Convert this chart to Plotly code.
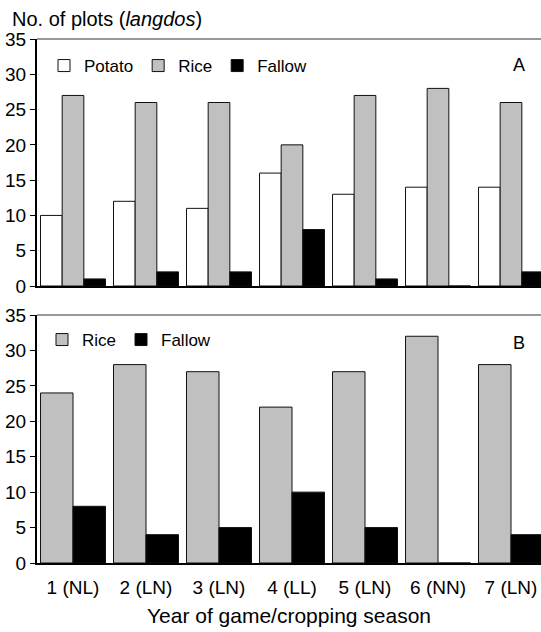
import plotly.graph_objects as go
from plotly.subplots import make_subplots

years = ["1 (NL)", "2 (LN)", "3 (LN)", "4 (LL)", "5 (LN)", "6 (NN)", "7 (LN)"]

# Panel A
potato_a = [10, 12, 11, 16, 13, 14, 14]
rice_a = [27, 26, 26, 20, 27, 28, 26]
fallow_a = [1, 2, 2, 8, 1, 0, 2]

# Panel B
rice_b = [24, 28, 27, 22, 27, 32, 28]
fallow_b = [8, 4, 5, 10, 5, 0, 4]

y_ticks = [0, 5, 10, 15, 20, 25, 30, 35]

FONT = "Liberation Sans, Arial, sans-serif"
W, H = 541, 632
L, R, T, B = 37, 0, 39, 69
ph = H - T - B  # 524
a_bottom, b_top = 286, 315
dom_a = [(H - B - a_bottom) / ph, 1.0]
dom_b = [0.0, (H - B - b_top) / ph]

fig = make_subplots(rows=2, cols=1)

line = dict(color="#111111", width=1)
fig.add_trace(go.Bar(x=years, y=potato_a, name="Potato", marker=dict(color="white", line=line),
                     legend="legend"), row=1, col=1)
fig.add_trace(go.Bar(x=years, y=rice_a, name="Rice", marker=dict(color="#c0c0c0", line=line),
                     legend="legend"), row=1, col=1)
fig.add_trace(go.Bar(x=years, y=fallow_a, name="Fallow", marker=dict(color="black", line=line),
                     legend="legend"), row=1, col=1)
fig.add_trace(go.Bar(x=years, y=rice_b, name="Rice", marker=dict(color="#c0c0c0", line=line),
                     legend="legend2"), row=2, col=1)
fig.add_trace(go.Bar(x=years, y=fallow_b, name="Fallow", marker=dict(color="black", line=line),
                     legend="legend2"), row=2, col=1)

pitch = 73.0
r0 = -(73 - L) / pitch
r1 = r0 + (W - L - R) / pitch
xr = [r0, r1]

common_x = dict(range=xr, showgrid=False, zeroline=False, showline=True, linecolor="black",
                linewidth=2, mirror=False, ticks="", domain=[0, 1])
common_y = dict(range=[0, 35], tickvals=y_ticks, showgrid=False, zeroline=False,
                showline=True, linecolor="black", linewidth=2, ticks="outside", ticklen=5,
                tickwidth=1, tickcolor="black",
                tickfont=dict(family=FONT, size=19, color="black"))

fig.update_layout(
    xaxis=dict(**common_x, showticklabels=False),
    xaxis2=dict(**common_x, showticklabels=True, ticklabelstandoff=6,
                tickfont=dict(family=FONT, size=19, color="black"),
                title=dict(text="Year of game/cropping season",
                           font=dict(family=FONT, size=21, color="black"), standoff=12)),
    yaxis=dict(**common_y, domain=dom_a),
    yaxis2=dict(**common_y, domain=dom_b),
)

for d in (dom_a, dom_b):
    fig.add_shape(type="line", xref="paper", yref="paper", x0=0, x1=1, y0=d[1], y1=d[1],
                  line=dict(color="#333333", width=1))


def py(pix):
    return (H - B - pix) / ph


def px(pix):
    return (pix - L) / (W - L - R)


fig.update_layout(
    width=W, height=H,
    margin=dict(l=L, r=R, t=T, b=B, pad=0),
    paper_bgcolor="white", plot_bgcolor="white",
    barmode="group", bargap=0.11, bargroupgap=0,
    font=dict(family=FONT, color="black"),
    legend=dict(orientation="h", x=px(44), y=py(48), xanchor="left", yanchor="top",
                bgcolor="rgba(0,0,0,0)", font=dict(family=FONT, size=17, color="black"),
                traceorder="normal", itemwidth=30),
    legend2=dict(orientation="h", x=px(42), y=py(322), xanchor="left", yanchor="top",
                 bgcolor="rgba(0,0,0,0)", font=dict(family=FONT, size=17, color="black"),
                 traceorder="normal", itemwidth=30),
    annotations=[
        dict(text="No. of plots (<i>langdos</i>)", xref="paper", yref="paper",
             x=px(10), y=py(19), xanchor="left", yanchor="middle", showarrow=False,
             font=dict(family=FONT, size=20, color="black")),
        dict(text="A", xref="paper", yref="paper", x=px(519), y=py(65),
             xanchor="center", yanchor="middle", showarrow=False,
             font=dict(family=FONT, size=18, color="black")),
        dict(text="B", xref="paper", yref="paper", x=px(519), y=py(343),
             xanchor="center", yanchor="middle", showarrow=False,
             font=dict(family=FONT, size=18, color="black")),
    ],
)

fig.write_html("out.html", config={"displayModeBar": False},
               post_script="document.body.style.margin='0';document.body.style.overflow='hidden';")
